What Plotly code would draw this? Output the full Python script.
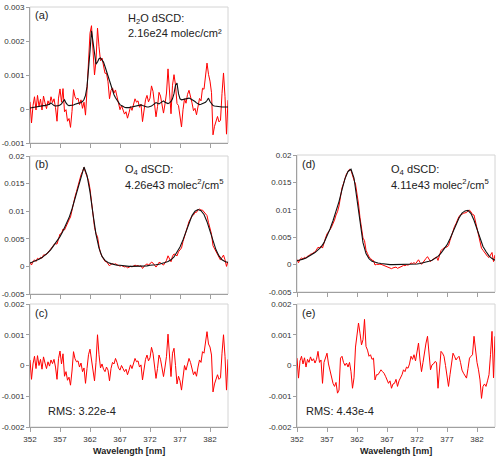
import numpy as np
import plotly.graph_objects as go

# ---------------- data ----------------
wl_fine = [round(352 + 0.25 * i, 2) for i in range(133)]   # 352.00 .. 385.00
wl_coarse = [round(352 + 0.5 * i, 1) for i in range(67)]   # 352.0 .. 385.0

# (c) residual, left fit
res_c = [0.00018, -0.00045, 0.00005, 0.00030, -0.00010, 0.00032, 0.00000, 0.00020, -0.00012, 0.00028,
         0.00008, -0.00010, 0.00012, -0.00002, 0.00018, 0.00006, 0.00020, -0.00005, -0.00045, 0.00022,
         0.00047, 0.00005, 0.00038, -0.00035, -0.00020, -0.00048, -0.00038, -0.00064, -0.00018, 0.00045,
         0.00022, 0.00012, 0.00015, -0.00005, 0.00008, -0.00020, -0.00008, -0.00058, -0.00010, 0.00035,
         0.00053, 0.00015, -0.00025, -0.00050, 0.00010, 0.00100, 0.00035, -0.00008, 0.00005, -0.00012,
         -0.00020, -0.00005, -0.00015, -0.00050, -0.00010, 0.00010, 0.00005, 0.00023, 0.00010, -0.00008,
         -0.00015, 0.00000, -0.00010, -0.00020, -0.00012, -0.00030, -0.00015, 0.00002, -0.00010, 0.00010,
         0.00023, 0.00012, 0.00015, -0.00005, 0.00002, -0.00047, -0.00010, 0.00020, 0.00034, 0.00015,
         0.00025, 0.00059, 0.00040, 0.00005, -0.00042, -0.00010, 0.00034, 0.00020, -0.00015, -0.00036,
         -0.00005, 0.00030, 0.00102, 0.00020, -0.00036, 0.00040, 0.00056, 0.00000, -0.00060, -0.00035,
         -0.00050, -0.00080, -0.00030, 0.00000, -0.00015, 0.00010, 0.00023, 0.00010, -0.00010, -0.00030,
         -0.00020, -0.00035, -0.00005, 0.00018, 0.00010, 0.00045, 0.00040, 0.00070, 0.00110, 0.00070,
         0.00060, 0.00034, -0.00086, -0.00060, -0.00042, -0.00030, -0.00045, -0.00040, 0.00040, 0.00100,
         0.00030, -0.00080, 0.00020]

# (a) H2O fitted cross section (black) and fit + residual (red)
h2o_fit = [0.00003, 0.00004, 0.00005, 0.00006, 0.00007, 0.00008, 0.00008, 0.00009, 0.00009, 0.00010,
           0.00010, 0.00011, 0.00012, 0.00014, 0.00018, 0.00013, 0.00010, 0.00009, 0.00009, 0.00010,
           0.00012, 0.00015, 0.00022, 0.00027, 0.00018, 0.00012, 0.00010, 0.00010, 0.00011, 0.00012,
           0.00014, 0.00016, 0.00017, 0.00018, 0.00019, 0.00022, 0.00028, 0.00040, 0.00065, 0.00110,
           0.00170, 0.00230, 0.00195, 0.00150, 0.00132, 0.00138, 0.00148, 0.00150, 0.00145, 0.00138,
           0.00125, 0.00110, 0.00095, 0.00080, 0.00065, 0.00052, 0.00042, 0.00033, 0.00025, 0.00018,
           0.00013, 0.00010, 0.00007, 0.00005, 0.00004, 0.00003, 0.00004, 0.00005, 0.00006, 0.00006,
           0.00007, 0.00008, 0.00009, 0.00010, 0.00012, 0.00010, 0.00008, 0.00007, 0.00006, 0.00006,
           0.00007, 0.00009, 0.00012, 0.00016, 0.00019, 0.00017, 0.00015, 0.00018, 0.00022, 0.00024,
           0.00020, 0.00017, 0.00016, 0.00018, 0.00022, 0.00030, 0.00045, 0.00070, 0.00076, 0.00045,
           0.00030, 0.00027, 0.00028, 0.00030, 0.00032, 0.00033, 0.00032, 0.00030, 0.00028, 0.00025,
           0.00022, 0.00018, 0.00015, 0.00013, 0.00014, 0.00016, 0.00018, 0.00020, 0.00025, 0.00032,
           0.00022, 0.00014, 0.00010, 0.00009, 0.00008, 0.00008, 0.00007, 0.00007, 0.00006, 0.00006,
           0.00006, 0.00006, 0.00006]

h2o_meas = [0.00021, -0.00041, 0.00010, 0.00036, -0.00003, 0.00040, 0.00008, 0.00029, -0.00003, 0.00038,
            0.00018, 0.00001, 0.00024, 0.00012, 0.00036, 0.00019, 0.00030, 0.00004, -0.00036, 0.00032,
            0.00059, 0.00020, 0.00060, -0.00008, -0.00002, -0.00036, -0.00028, -0.00054, -0.00007, 0.00057,
            0.00036, 0.00028, 0.00032, 0.00013, 0.00027, 0.00002, 0.00020, -0.00018, 0.00055, 0.00145,
            0.00223, 0.00245, 0.00170, 0.00100, 0.00142, 0.00238, 0.00183, 0.00142, 0.00150, 0.00126,
            0.00105, 0.00105, 0.00080, 0.00030, 0.00055, 0.00062, 0.00047, 0.00056, 0.00035, 0.00010,
            -0.00002, 0.00010, -0.00003, -0.00015, -0.00008, -0.00027, -0.00011, 0.00007, -0.00004, 0.00016,
            0.00030, 0.00020, 0.00024, 0.00005, 0.00014, -0.00037, -0.00002, 0.00027, 0.00040, 0.00021,
            0.00032, 0.00068, 0.00052, 0.00021, -0.00023, 0.00007, 0.00049, 0.00038, 0.00007, -0.00012,
            0.00015, 0.00047, 0.00118, 0.00038, -0.00014, 0.00070, 0.00101, 0.00070, 0.00016, 0.00010,
            -0.00020, -0.00053, -0.00002, 0.00030, 0.00017, 0.00043, 0.00055, 0.00040, 0.00018, -0.00005,
            0.00002, -0.00017, 0.00010, 0.00031, 0.00024, 0.00061, 0.00058, 0.00090, 0.00135, 0.00102,
            0.00082, 0.00048, -0.00076, -0.00051, -0.00034, -0.00022, -0.00038, -0.00033, 0.00046, 0.00106,
            0.00036, -0.00074, 0.00026]

# (b) O4, left fit
o4_fit_b = [0.0006, 0.0008, 0.0010, 0.0013, 0.0016, 0.0020, 0.0025, 0.0031, 0.0038, 0.0045,
            0.0054, 0.0064, 0.0075, 0.0088, 0.0104, 0.0124, 0.0145, 0.0165, 0.0180, 0.0165,
            0.0135, 0.0095, 0.0058, 0.0033, 0.0018, 0.0011, 0.0007, 0.0005, 0.0003, 0.0002,
            0.0002, 0.0001, 0.0001, 0.0000, 0.0000, 0.0000, 0.0000, 0.0001, 0.0001, 0.0001,
            0.0002, 0.0002, 0.0003, 0.0004, 0.0005, 0.0007, 0.0009, 0.0012, 0.0017, 0.0025,
            0.0035, 0.0048, 0.0063, 0.0079, 0.0092, 0.0100, 0.0103, 0.0101, 0.0094, 0.0081,
            0.0064, 0.0046, 0.0030, 0.0019, 0.0012, 0.0009, 0.0007]

o4_meas_b = [0.00078, 0.00025, 0.00085, 0.00120, 0.00090, 0.00147, 0.00130, 0.00165, 0.00148, 0.00208,
             0.00208, 0.00215, 0.00262, 0.00278, 0.00328, 0.00351, 0.00400, 0.00410, 0.00405, 0.00517,
             0.00587, 0.00595, 0.00678, 0.00660, 0.00730, 0.00767, 0.00842, 0.00896, 0.01022, 0.01185,
             0.01262, 0.01357, 0.01465, 0.01545, 0.01658, 0.01720, 0.01792, 0.01702, 0.01640, 0.01555,
             0.01403, 0.01165, 0.00925, 0.00710, 0.00590, 0.00540, 0.00365, 0.00242, 0.00185, 0.00128,
             0.00090, 0.00085, 0.00055, 0.00010, 0.00040, 0.00050, 0.00035, 0.00048, 0.00030, 0.00012,
             0.00005, 0.00015, 0.00000, -0.00010, -0.00002, -0.00025, -0.00015, 0.00002, -0.00010, 0.00010,
             0.00023, 0.00012, 0.00015, 0.00000, 0.00012, -0.00037, 0.00000, 0.00030, 0.00044, 0.00030,
             0.00045, 0.00079, 0.00060, 0.00030, -0.00012, 0.00025, 0.00074, 0.00065, 0.00035, 0.00024,
             0.00065, 0.00110, 0.00192, 0.00125, 0.00084, 0.00185, 0.00226, 0.00210, 0.00190, 0.00265,
             0.00300, 0.00335, 0.00450, 0.00555, 0.00615, 0.00720, 0.00813, 0.00865, 0.00910, 0.00930,
             0.00980, 0.00980, 0.01025, 0.01038, 0.01020, 0.01020, 0.00980, 0.00945, 0.00920, 0.00795,
             0.00700, 0.00584, 0.00374, 0.00320, 0.00258, 0.00215, 0.00145, 0.00115, 0.00160, 0.00205,
             0.00120, 0.00000, 0.00090]

# (e) residual, right fit
res_e = [0.00024, -0.00041, 0.00015, 0.00030, 0.00005, 0.00025, -0.00005, 0.00020, 0.00010, 0.00028,
         0.00015, 0.00022, 0.00008, 0.00020, 0.00046, 0.00010, 0.00018, -0.00058, 0.00010, 0.00025,
         0.00040, 0.00005, -0.00014, -0.00040, -0.00058, -0.00068, -0.00055, -0.00090, -0.00080, 0.00024,
         0.00030, 0.00010, 0.00000, 0.00008, -0.00005, 0.00010, -0.00020, -0.00074, -0.00040, 0.00060,
         0.00095, 0.00138, 0.00105, 0.00067, 0.00084, 0.00150, 0.00062, 0.00050, 0.00030, 0.00035,
         0.00020, 0.00024, -0.00047, -0.00030, -0.00030, -0.00020, -0.00014, -0.00020, -0.00025, -0.00035,
         -0.00050, -0.00058, -0.00050, -0.00074, -0.00060, -0.00058, -0.00045, -0.00068, -0.00050, -0.00041,
         -0.00030, -0.00014, -0.00020, -0.00005, -0.00009, 0.00005, 0.00030, 0.00020, 0.00035, 0.00015,
         0.00050, 0.00073, 0.00018, -0.00020, 0.00010, 0.00050, 0.00073, 0.00095, 0.00030, -0.00014,
         0.00002, 0.00005, 0.00013, 0.00010, -0.00074, -0.00003, 0.00046, 0.00040, 0.00030, 0.00000,
         -0.00041, -0.00068, -0.00030, 0.00002, 0.00040, 0.00030, 0.00018, 0.00025, 0.00030, 0.00010,
         -0.00015, -0.00025, -0.00035, -0.00041, -0.00010, 0.00024, 0.00030, 0.00035, 0.00095, 0.00046,
         0.00010, -0.00014, -0.00047, -0.00107, -0.00068, -0.00060, -0.00068, -0.00050, -0.00030, 0.00035,
         0.00111, -0.00040, 0.00095]

# (d) O4, right fit
o4_fit_d = [0.0007, 0.0008, 0.0010, 0.0012, 0.0015, 0.0018, 0.0022, 0.0027, 0.0032, 0.0040,
            0.0052, 0.0065, 0.0080, 0.0096, 0.0115, 0.0137, 0.0157, 0.0170, 0.0174, 0.0158,
            0.0120, 0.0075, 0.0040, 0.0020, 0.0011, 0.0006, 0.0004, 0.0003, 0.0002, 0.0001,
            0.0001, 0.0000, 0.0000, 0.0000, 0.0000, 0.0000, 0.0000, 0.0000, 0.0000, 0.0000,
            0.0001, 0.0002, 0.0003, 0.0004, 0.0006, 0.0008, 0.0011, 0.0015, 0.0021, 0.0028,
            0.0036, 0.0047, 0.0060, 0.0073, 0.0085, 0.0094, 0.0098, 0.0099, 0.0093, 0.0081,
            0.0065, 0.0048, 0.0033, 0.0024, 0.0016, 0.0011, 0.0008]

o4_meas_d = [0.00094, 0.00034, 0.00095, 0.00120, 0.00105, 0.00135, 0.00115, 0.00155, 0.00160, 0.00193,
             0.00195, 0.00222, 0.00228, 0.00265, 0.00316, 0.00305, 0.00338, 0.00302, 0.00410, 0.00485,
             0.00560, 0.00590, 0.00636, 0.00685, 0.00742, 0.00812, 0.00905, 0.00965, 0.01070, 0.01284,
             0.01400, 0.01480, 0.01570, 0.01658, 0.01695, 0.01740, 0.01720, 0.01606, 0.01540, 0.01470,
             0.01295, 0.01108, 0.00855, 0.00627, 0.00484, 0.00440, 0.00262, 0.00200, 0.00140, 0.00115,
             0.00080, 0.00074, -0.00007, 0.00005, 0.00000, 0.00005, 0.00006, -0.00005, -0.00015, -0.00025,
             -0.00040, -0.00053, -0.00050, -0.00074, -0.00060, -0.00058, -0.00045, -0.00068, -0.00050, -0.00041,
             -0.00030, -0.00014, -0.00020, -0.00005, -0.00009, 0.00005, 0.00030, 0.00020, 0.00035, 0.00015,
             0.00060, 0.00088, 0.00038, 0.00005, 0.00040, 0.00085, 0.00113, 0.00145, 0.00090, 0.00056,
             0.00082, 0.00100, 0.00123, 0.00140, 0.00076, 0.00177, 0.00256, 0.00285, 0.00310, 0.00320,
             0.00319, 0.00347, 0.00440, 0.00537, 0.00640, 0.00695, 0.00748, 0.00815, 0.00880, 0.00905,
             0.00925, 0.00935, 0.00945, 0.00949, 0.00980, 0.00994, 0.00960, 0.00915, 0.00905, 0.00776,
             0.00660, 0.00551, 0.00433, 0.00298, 0.00262, 0.00225, 0.00172, 0.00150, 0.00130, 0.00170,
             0.00221, 0.00055, 0.00175]

x_ticks = [352, 357, 362, 367, 372, 377, 382]
x_ticklabels = ["352", "357", "362", "367", "372", "377", "382"]
y_ticks_a = [-0.001, 0, 0.001, 0.002, 0.003]
y_labels_a = ["-0.001", "0", "0.001", "0.002", "0.003"]
y_ticks_o4 = [-0.005, 0, 0.005, 0.01, 0.015, 0.02]
y_labels_o4 = ["-0.005", "0", "0.005", "0.01", "0.015", "0.02"]
y_ticks_res = [-0.002, -0.001, 0, 0.001, 0.002]
y_labels_res = ["-0.002", "-0.001", "0", "0.001", "0.002"]

for arr in (res_c, h2o_fit, h2o_meas, o4_meas_b, res_e, o4_meas_d):
    assert len(arr) == len(wl_fine), len(arr)
for arr in (o4_fit_b, o4_fit_d):
    assert len(arr) == len(wl_coarse), len(arr)

# ---------------- figure ----------------
W, H = 500, 459
RED = "#ff0000"
BLACK = "#111111"
FONT = "Liberation Sans, Arial, Helvetica, sans-serif"

fig = go.Figure()

def px_x(p):
    return p / W

def px_y(p):
    return 1 - p / H

panels = {
    "a": dict(xd=(30, 228), yd=(7, 143), yr=(-0.001, 0.003), yt=y_ticks_a, yl=y_labels_a, xl=False),
    "b": dict(xd=(30, 228), yd=(156, 294), yr=(-0.005, 0.02), yt=y_ticks_o4, yl=y_labels_o4, xl=False),
    "c": dict(xd=(30, 228), yd=(304, 427), yr=(-0.002, 0.002), yt=y_ticks_res, yl=y_labels_res, xl=True),
    "d": dict(xd=(297, 495), yd=(155, 292), yr=(-0.005, 0.02), yt=y_ticks_o4, yl=y_labels_o4, xl=False),
    "e": dict(xd=(297, 495), yd=(304, 427), yr=(-0.002, 0.002), yt=y_ticks_res, yl=y_labels_res, xl=True),
}

traces = {
    "a": [(wl_fine, h2o_meas, RED, 1.0), (wl_fine, h2o_fit, BLACK, 1.1)],
    "b": [(wl_fine, o4_meas_b, RED, 1.0), (wl_coarse, o4_fit_b, BLACK, 1.1)],
    "c": [(wl_fine, res_c, RED, 1.0)],
    "d": [(wl_fine, o4_meas_d, RED, 1.0), (wl_coarse, o4_fit_d, BLACK, 1.1)],
    "e": [(wl_fine, res_e, RED, 1.0)],
}

layout = dict(width=W, height=H, margin=dict(l=0, r=0, t=0, b=0, autoexpand=False),
              paper_bgcolor="white", plot_bgcolor="white", showlegend=False,
              font=dict(family=FONT, color="#333333"))
shapes = []
for i, (k, p) in enumerate(panels.items(), start=1):
    xa = "xaxis" if i == 1 else f"xaxis{i}"
    ya = "yaxis" if i == 1 else f"yaxis{i}"
    xr = "x" if i == 1 else f"x{i}"
    yr = "y" if i == 1 else f"y{i}"
    layout[xa] = dict(domain=[px_x(p["xd"][0]), px_x(p["xd"][1])], anchor=yr,
                      range=[352, 385], tickmode="array", tickvals=x_ticks,
                      ticktext=x_ticklabels, showticklabels=p["xl"], automargin=False,
                      ticks="outside", ticklen=4, tickcolor="#a0a0a0", tickwidth=1,
                      showline=True, linecolor="#a0a0a0", linewidth=1,
                      showgrid=False, zeroline=False,
                      tickfont=dict(size=8, color="#333333", family=FONT))
    layout[ya] = dict(domain=[px_y(p["yd"][1]), px_y(p["yd"][0])], anchor=xr,
                      range=list(p["yr"]), tickmode="array", tickvals=p["yt"], ticktext=p["yl"],
                      ticks="outside", ticklen=3, tickcolor="#a0a0a0", automargin=False,
                      showline=True, linecolor="#a0a0a0", linewidth=1,
                      showgrid=False, zeroline=False,
                      tickfont=dict(size=8, color="#333333", family=FONT))
    shapes.append(dict(type="rect", xref=f"{xr} domain", yref=f"{yr} domain",
                       x0=0, x1=1, y0=0, y1=1, line=dict(color="#d4d4d4", width=1),
                       layer="below"))
    for (xs, ys, col, lw) in traces[k]:
        fig.add_trace(go.Scatter(x=xs, y=ys, mode="lines", xaxis=xr, yaxis=yr,
                                 line=dict(color=col, width=lw), hoverinfo="skip"))

layout["shapes"] = shapes
fig.update_layout(**layout)

def note(text, x, y, size=11, anchor="left", bold=False, color="#222222"):
    fig.add_annotation(text=(f"<b>{text}</b>" if bold else text), x=px_x(x), y=px_y(y),
                       xref="paper", yref="paper",
                       xanchor=anchor, yanchor="middle", showarrow=False,
                       font=dict(size=size, color=color, family=FONT))

note("(a)", 33, 15)
note("H<sub>2</sub>O dSCD:", 126, 19)
note("2.16e24 molec/cm²", 126, 33)
note("(b)", 33, 164)
note("O<sub>4</sub> dSCD:", 123, 170)
note("4.26e43 molec<sup>2</sup>/cm<sup>5</sup>", 123, 184)
note("(c)", 33, 313)
note("RMS: 3.22e-4", 46, 411)
note("(d)", 300, 164)
note("O<sub>4</sub> dSCD:", 389, 170)
note("4.11e43 molec<sup>2</sup>/cm<sup>5</sup>", 389, 184)
note("(e)", 300, 313)
note("RMS: 4.43e-4", 304, 411)
note("Wavelength [nm]", 129, 451, size=9, anchor="center", bold=True)
note("Wavelength [nm]", 396, 451, size=9, anchor="center", bold=True)

fig.write_html("out.html", config={"displayModeBar": False},
               post_script="document.body.style.margin='0';document.body.style.padding='0';")
